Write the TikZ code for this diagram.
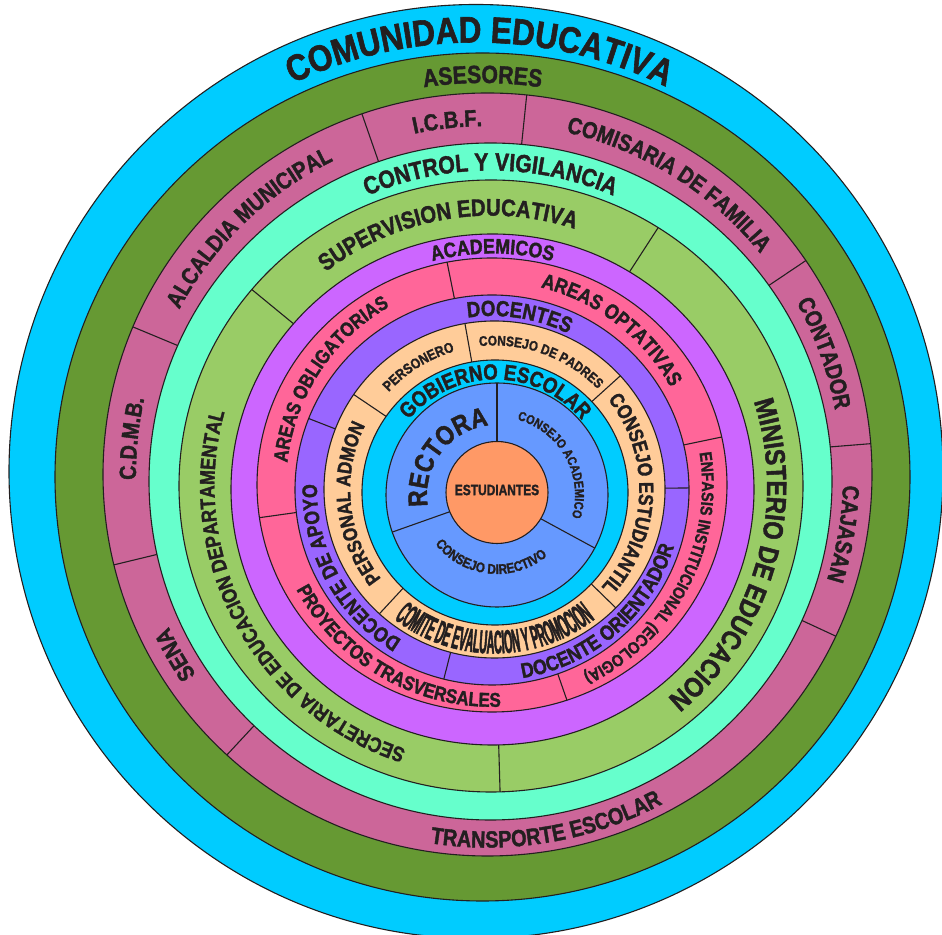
\documentclass[tikz,border=0pt]{standalone}
\usepackage{fontspec}
\setmainfont{Liberation Sans}
\newfontfamily\labfont[FakeStretch=0.85,FakeBold=1.6]{Liberation Sans Bold}
\newfontfamily\comfont[FakeStretch=0.33,FakeBold=1.4]{Liberation Sans Bold}
\newfontfamily\estfont[FakeStretch=0.8,FakeBold=1.6]{Liberation Sans Bold}
\usetikzlibrary{calc,decorations.text}
\definecolor{comblue}{HTML}{00CCFF}
\definecolor{asegreen}{HTML}{669933}
\definecolor{mauve}{HTML}{CC6699}
\definecolor{aqua}{HTML}{66FFCC}
\definecolor{supgreen}{HTML}{99CC66}
\definecolor{acaviolet}{HTML}{CC66FF}
\definecolor{areapink}{HTML}{FF6699}
\definecolor{docpurple}{HTML}{9966FF}
\definecolor{peach}{HTML}{FFCC99}
\definecolor{govcyan}{HTML}{00CCFF}
\definecolor{govblue}{HTML}{6699FF}
\definecolor{estorange}{HTML}{FF9966}
\definecolor{edge}{HTML}{231F20}
\newcommand\lab[1]{\labfont\fontsize{#1}{#1}\selectfont}
% text on an arc, read clockwise (tops outward)
\newcommand\cwtext[5]{%
  \path[decorate,decoration={text along path,text align=center,text color=edge,
    text={|#4|#5}}]
    ($(#1)+(#3+85:#2)$) arc[start angle=#3+85,end angle=#3-85,radius=#2];}
% text on an arc, read counterclockwise (tops inward)
\newcommand\ccwtext[5]{%
  \path[decorate,decoration={text along path,text align=center,text color=edge,
    text={|#4|#5}}]
    ($(#1)+(#3-85:#2)$) arc[start angle=#3-85,end angle=#3+85,radius=#2];}
\begin{document}
\begin{tikzpicture}[x=1bp,y=1bp,
    ring/.style={draw=edge,line width=1.1bp},
    divider/.style={draw=edge,line width=1.1bp}]
\useasboundingbox (0,0) rectangle (942,935);
% centres of the rings
\coordinate (cA) at (476,463.5);
\coordinate (cB) at (482.5,458);
\coordinate (cC) at (487.5,460.5);
\coordinate (cD) at (490.5,453.5);
\coordinate (cE) at (491,449);
\coordinate (cF) at (492.5,445.5);
\coordinate (cG) at (492,450);
\coordinate (cH) at (492,445);
\coordinate (cI) at (494.5,445.5);
\coordinate (cJ) at (495,442.5);
\coordinate (cK) at (497,440);
\coordinate (cL) at (497,442.5);
% rings, from outside in
\path[fill=comblue,ring] (cA) circle[radius=467];
\path[fill=asegreen,ring] (cB) ellipse[x radius=427.5,y radius=424];
\path[fill=mauve,ring] (cC) ellipse[x radius=384.5,y radius=381.5];
\begin{scope}
  \clip (cC) ellipse[x radius=384.5,y radius=381.5];
  \foreach \a in {109.2,84.1,33.9,4.6,-24.9,227.1,193.6,157.4}
    \draw[divider] (cC) -- ++(\a:420);
\end{scope}
\path[fill=aqua,ring] (cD) ellipse[x radius=341.5,y radius=338.5];
\path[fill=supgreen,ring] (cE) ellipse[x radius=312,y radius=306];
\begin{scope}
  \clip (cE) ellipse[x radius=312,y radius=306];
  \foreach \a in {140.6,57.1,-88.3}
    \draw[divider] (cE) -- ++(\a:340);
\end{scope}
\path[fill=acaviolet,ring] (cF) ellipse[x radius=261.5,y radius=255.5];
\path[fill=areapink,ring] (cG) ellipse[x radius=235,y radius=227];
\begin{scope}
  \clip (cG) ellipse[x radius=235,y radius=227];
  \foreach \a in {101.4,11.8,-70.8,188}
    \draw[divider] (cG) -- ++(\a:260);
\end{scope}
\path[fill=docpurple,ring] (cH) ellipse[x radius=197,y radius=195];
\begin{scope}
  \clip (cH) ellipse[x radius=197,y radius=195];
  \foreach \a in {158.7,0.6,255.7}
    \draw[divider] (cH) -- ++(\a:220);
\end{scope}
\path[fill=peach,ring] (cI) ellipse[x radius=170.5,y radius=168.5];
\begin{scope}
  \clip (cI) ellipse[x radius=170.5,y radius=168.5];
  \foreach \a in {146,100.1,42.1,-44.3,227.2}
    \draw[divider] (cI) -- ++(\a:190);
\end{scope}
\path[fill=govcyan,ring] (cJ) ellipse[x radius=133,y radius=132.5];
\path[fill=govblue,ring] (cK) ellipse[x radius=111,y radius=112];
\begin{scope}
  \clip (cK) ellipse[x radius=111,y radius=112];
  \foreach \a in {90,199.5,-28.5}
    \draw[divider] (cK) -- ++(\a:130);
\end{scope}
\path[fill=estorange,ring] (cL) circle[radius=51];
% labels
\cwtext{cA}{429}{89.5}{\lab{37}}{COMUNIDAD EDUCATIVA}
\cwtext{cB}{394}{90}{\lab{25}}{ASESORES}
\cwtext{cC}{348.5}{96.5}{\lab{23.5}}{I.C.B.F.}
\cwtext{cC}{351}{58}{\lab{23.5}}{COMISARIA DE FAMILIA}
\cwtext{cC}{353.5}{19.8}{\lab{23.5}}{CONTADOR}
\cwtext{cC}{355.5}{-9.5}{\lab{23.5}}{CAJASAN}
\ccwtext{cC}{373}{279.6}{\lab{23.5}}{TRANSPORTE ESCOLAR}
\cwtext{cC}{353.5}{210}{\lab{23.5}}{SENA}
\cwtext{cC}{351.5}{174.2}{\lab{23.5}}{C.D.M.B.}
\cwtext{cC}{349.5}{134}{\lab{23.5}}{ALCALDIA MUNICIPAL}
\cwtext{cD}{311}{90}{\lab{25}}{CONTROL Y VIGILANCIA}
\cwtext{cE}{270.4}{99.8}{\lab{24}}{SUPERVISION EDUCATIVA}
\cwtext{cE}{276}{-16.2}{\lab{28}}{MINISTERIO DE EDUCACION}
\cwtext{cE}{276.5}{208.3}{\lab{21}}{SECRETARIA DE EDUCACION DEPARTAMENTAL}
\cwtext{cF}{236}{90}{\lab{21}}{ACADEMICOS}
\cwtext{cG}{203.5}{52.4}{\lab{21}}{AREAS OPTATIVAS}
\cwtext{cG}{205.8}{146.8}{\lab{20}}{AREAS OBLIGATORIAS}
\ccwtext{cG}{221.8}{240.2}{\lab{20}}{PROYECTOS TRASVERSALES}
\cwtext{cG}{210}{-27.7}{\lab{17}}{ENFASIS INSTITUCIONAL (ECOLOGIA)}
\cwtext{cH}{174}{81}{\lab{22}}{DOCENTES}
\cwtext{cH}{175}{208.5}{\lab{21}}{DOCENTE DE APOYO}
\ccwtext{cH}{190.5}{311}{\lab{21}}{DOCENTE ORIENTADOR}
\cwtext{cI}{143.8}{121.7}{\lab{14.5}}{PERSONERO}
\cwtext{cI}{144}{70.1}{\lab{14}}{CONSEJO DE PADRES}
\cwtext{cI}{144.7}{-2}{\lab{20.5}}{CONSEJO ESTUDIANTIL}
\cwtext{cI}{144.3}{185.9}{\lab{20}}{PERSONAL ADMON}
\ccwtext{cI}{164}{270}{\comfont\fontsize{33}{33}\selectfont}{COMITE DE EVALUACION Y PROMOCION}
\cwtext{cJ}{113}{89.8}{\lab{22}}{GOBIERNO ESCOLAR}
\cwtext{cK}{70}{143}{\lab{27}}{RECTORA}
\cwtext{cK}{78}{29.2}{\lab{13}}{CONSEJO ACADEMICO}
\ccwtext{cK}{79}{264}{\lab{14}}{CONSEJO DIRECTIVO}
\node[text=edge,font=\estfont\fontsize{15}{15}\selectfont] (est) at ($(cL)+(0,2.5)$) {ESTUDIANTES};
\end{tikzpicture}
\end{document}
